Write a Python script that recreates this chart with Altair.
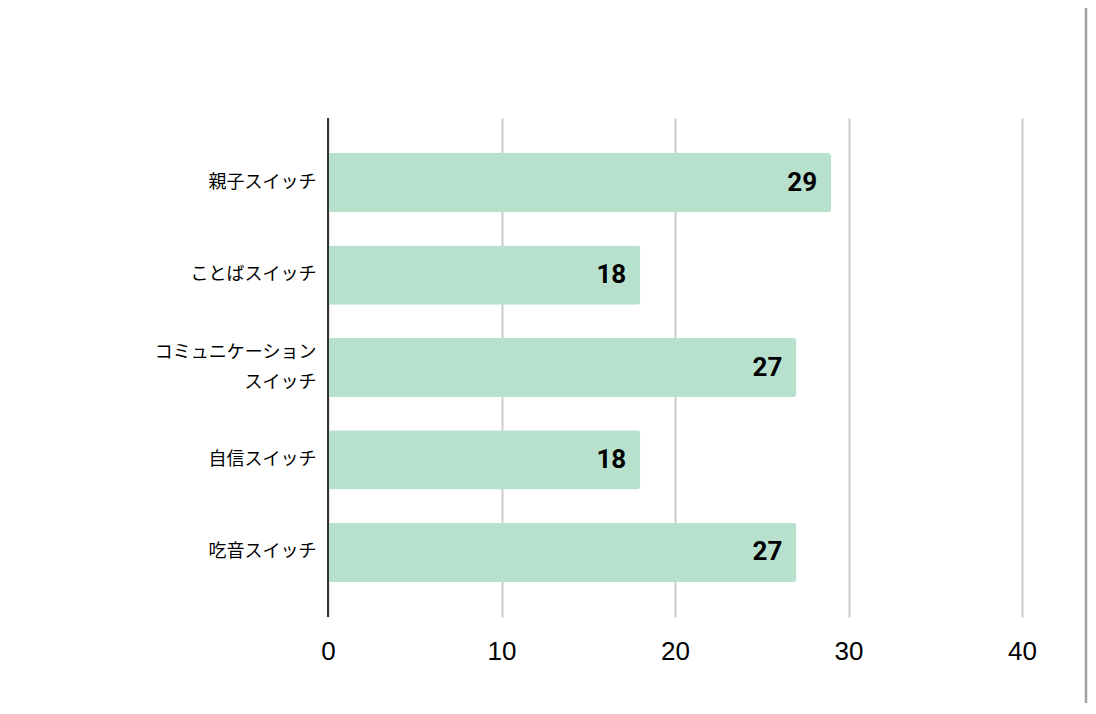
import altair as alt
import pandas as pd

categories = ["親子スイッチ", "ことばスイッチ", "コミュニケーション\nスイッチ", "自信スイッチ", "吃音スイッチ"]
values = [29, 18, 27, 18, 27]
x_ticks = [0, 10, 20, 30, 40]

df = pd.DataFrame({"cat": categories, "val": values})

y_enc = alt.Y("cat:N", sort=categories, title=None,
              scale=alt.Scale(paddingInner=0.36, paddingOuter=0.38),
              axis=alt.Axis(labelFont="Noto Sans CJK JP", labelFontSize=18, labelColor="#000000",
                            labelPadding=12, ticks=False, domain=False, grid=False,
                            labelLineHeight=30,
                            labelOffset={"condition": {"test": "indexof(datum.value, '\\n') >= 0",
                                                       "value": -15}, "value": 0},
                            labelExpr="split(datum.label, '\\n')"))
x_enc = alt.X("val:Q", title=None,
              scale=alt.Scale(domain=[0, 40], nice=False),
              axis=alt.Axis(values=x_ticks, labelFont="Liberation Sans", labelFontSize=26,
                            labelColor="#000000", labelPadding=21, ticks=False, domain=False,
                            labelFlush=False,
                            grid=True, gridColor="#cccccc", gridWidth=2))

bars = alt.Chart(df).mark_bar(color="#b7e1cd", cornerRadiusEnd=3).encode(x=x_enc, y=y_enc)

text = alt.Chart(df).mark_text(align="right", baseline="middle", dx=-14, font="Roboto",
                               fontWeight="bold", fontSize=26, color="#000000").encode(
    x="val:Q", y=alt.Y("cat:N", sort=categories), text="val:Q")

zero = alt.Chart(pd.DataFrame({"z": [0]})).mark_rule(color="#333333", strokeWidth=2).encode(x="z:Q")

edge = alt.Chart(pd.DataFrame({"z": [0]})).mark_rule(color="#a0a0a0", strokeWidth=2.5).encode(
    x=alt.value(758), y=alt.value(-112), y2=alt.value(590))

chart = alt.layer(bars, zero, text, edge).properties(
    width=694, height=499,
    autosize=alt.AutoSizeParams(type="none"),
    padding={"left": 320, "top": 110, "right": 66, "bottom": 86},
).configure_view(stroke=None)

chart.save("out.html", embed_options={"renderer": "svg", "actions": False})
